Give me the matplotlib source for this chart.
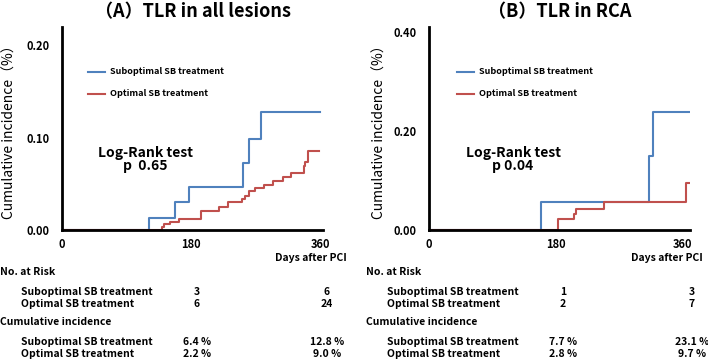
import numpy as np
import matplotlib
matplotlib.use('Agg')
import matplotlib.pyplot as plt

plt.rcParams['font.family'] = ['Noto Sans CJK JP', 'DejaVu Sans']

# kaplan-meier style step data (days, cumulative incidence)
a_sub_days = [0, 121, 157, 176, 252, 260, 277, 359]
a_sub_inc = [0, 0.013, 0.030, 0.047, 0.073, 0.099, 0.128, 0.128]
a_opt_days = [0, 139, 142, 150, 163, 193, 219, 231, 251, 255, 260, 269, 281, 294, 308, 319, 336, 338, 342, 358]
a_opt_inc = [0, 0.003, 0.006, 0.009, 0.012, 0.021, 0.025, 0.030, 0.034, 0.037, 0.042, 0.045,
             0.049, 0.053, 0.057, 0.062, 0.069, 0.074, 0.086, 0.086]

b_sub_days = [0, 159, 312, 318, 368]
b_sub_inc = [0, 0.057, 0.149, 0.239, 0.239]
b_opt_days = [0, 183, 206, 208, 248, 364, 368]
b_opt_inc = [0, 0.022, 0.032, 0.042, 0.057, 0.094, 0.094]

groups = ['Suboptimal SB treatment', 'Optimal SB treatment']
a_risk = [['3', '6'], ['6', '24']]
a_cum = [['6.4 %', '12.8 %'], ['2.2 %', '9.0 %']]
b_risk = [['1', '3'], ['2', '7']]
b_cum = [['7.7 %', '23.1 %'], ['2.8 %', '9.7 %']]

blue = '#4F81BD'
red = '#C0504D'

fig = plt.figure(figsize=(7.08, 3.63), dpi=100)
W, H = 708, 363


def panel(rect, title, sub, opt, ymax, yticks, xmax, pval, leg_x, lr_x, ylab_x):
    ax = fig.add_axes(rect)
    ax.step(sub[0], sub[1], where='post', color=blue, lw=1.5)
    ax.step(opt[0], opt[1], where='post', color=red, lw=1.5)
    ax.set_xlim(0, xmax)
    ax.set_ylim(0, ymax)
    ax.set_xticks([0, 180, 360])
    ax.set_yticks(yticks)
    ax.set_yticklabels(['%.2f' % v for v in yticks])
    ax.tick_params(length=0, labelsize=8, pad=9)
    for lab in ax.get_xticklabels() + ax.get_yticklabels():
        lab.set_fontweight('bold')
    ax.tick_params(axis='x', pad=6)
    for s in ['top', 'right']:
        ax.spines[s].set_visible(False)
    for s in ['left', 'bottom']:
        ax.spines[s].set_linewidth(2)
        ax.spines[s].set_zorder(5)
    ax.set_ylabel('Cumulative incidence（%）', fontsize=10)
    ax.yaxis.set_label_coords(ylab_x, 0.5)
    ax.set_title(title, fontsize=13, fontweight='bold', pad=7)
    # legend by hand
    for i, (c, g) in enumerate(zip([blue, red], groups)):
        y = 1 - (72 + 22 * i) / H
        fig.add_artist(plt.Line2D([leg_x / W, (leg_x + 17) / W], [y, y], color=c, lw=1.5))
        fig.text((leg_x + 22) / W, y, g, fontsize=6.5, fontweight='bold', va='center')
    fig.text(lr_x / W, 1 - 153 / H, 'Log-Rank test', fontsize=10, fontweight='bold',
             ha='center', va='center')
    fig.text(lr_x / W, 1 - 166 / H, pval, fontsize=10, fontweight='bold', ha='center', va='center')
    return ax


def tables(x0, xr, xv1, xv2, risk, cum):
    fig.text(xr / W, 1 - 258 / H, 'Days after PCI', fontsize=7.5, fontweight='bold',
             ha='right', va='center')
    fig.text(x0 / W, 1 - 272 / H, 'No. at Risk', fontsize=7.5, fontweight='bold', va='center')
    fig.text(x0 / W, 1 - 322 / H, 'Cumulative incidence', fontsize=7.5, fontweight='bold', va='center')
    for i, g in enumerate(groups):
        for y0, vals in [(292, risk), (342, cum)]:
            y = 1 - (y0 + 12 * i) / H
            fig.text((x0 + 21) / W, y, g, fontsize=7.5, fontweight='bold', va='center')
            fig.text(xv1 / W, y, vals[i][0], fontsize=7.5, fontweight='bold', ha='center', va='center')
            fig.text(xv2 / W, y, vals[i][1], fontsize=7.5, fontweight='bold', ha='center', va='center')


panel([62 / W, 133 / H, 261 / W, 203 / H], '（A）TLR in all lesions',
      (a_sub_days, a_sub_inc), (a_opt_days, a_opt_inc), 0.22, [0.0, 0.1, 0.2], 363,
      'p  0.65', 88, 145, -0.172)
panel([429 / W, 133 / H, 261 / W, 203 / H], '（B）TLR in RCA',
      (b_sub_days, b_sub_inc), (b_opt_days, b_opt_inc), 0.41, [0.0, 0.2, 0.4], 370,
      'p 0.04', 457, 513, -0.161)

tables(0, 347, 197, 327, a_risk, a_cum)
tables(366, 703, 563, 692, b_risk, b_cum)

fig.savefig('out.png', dpi=100)
